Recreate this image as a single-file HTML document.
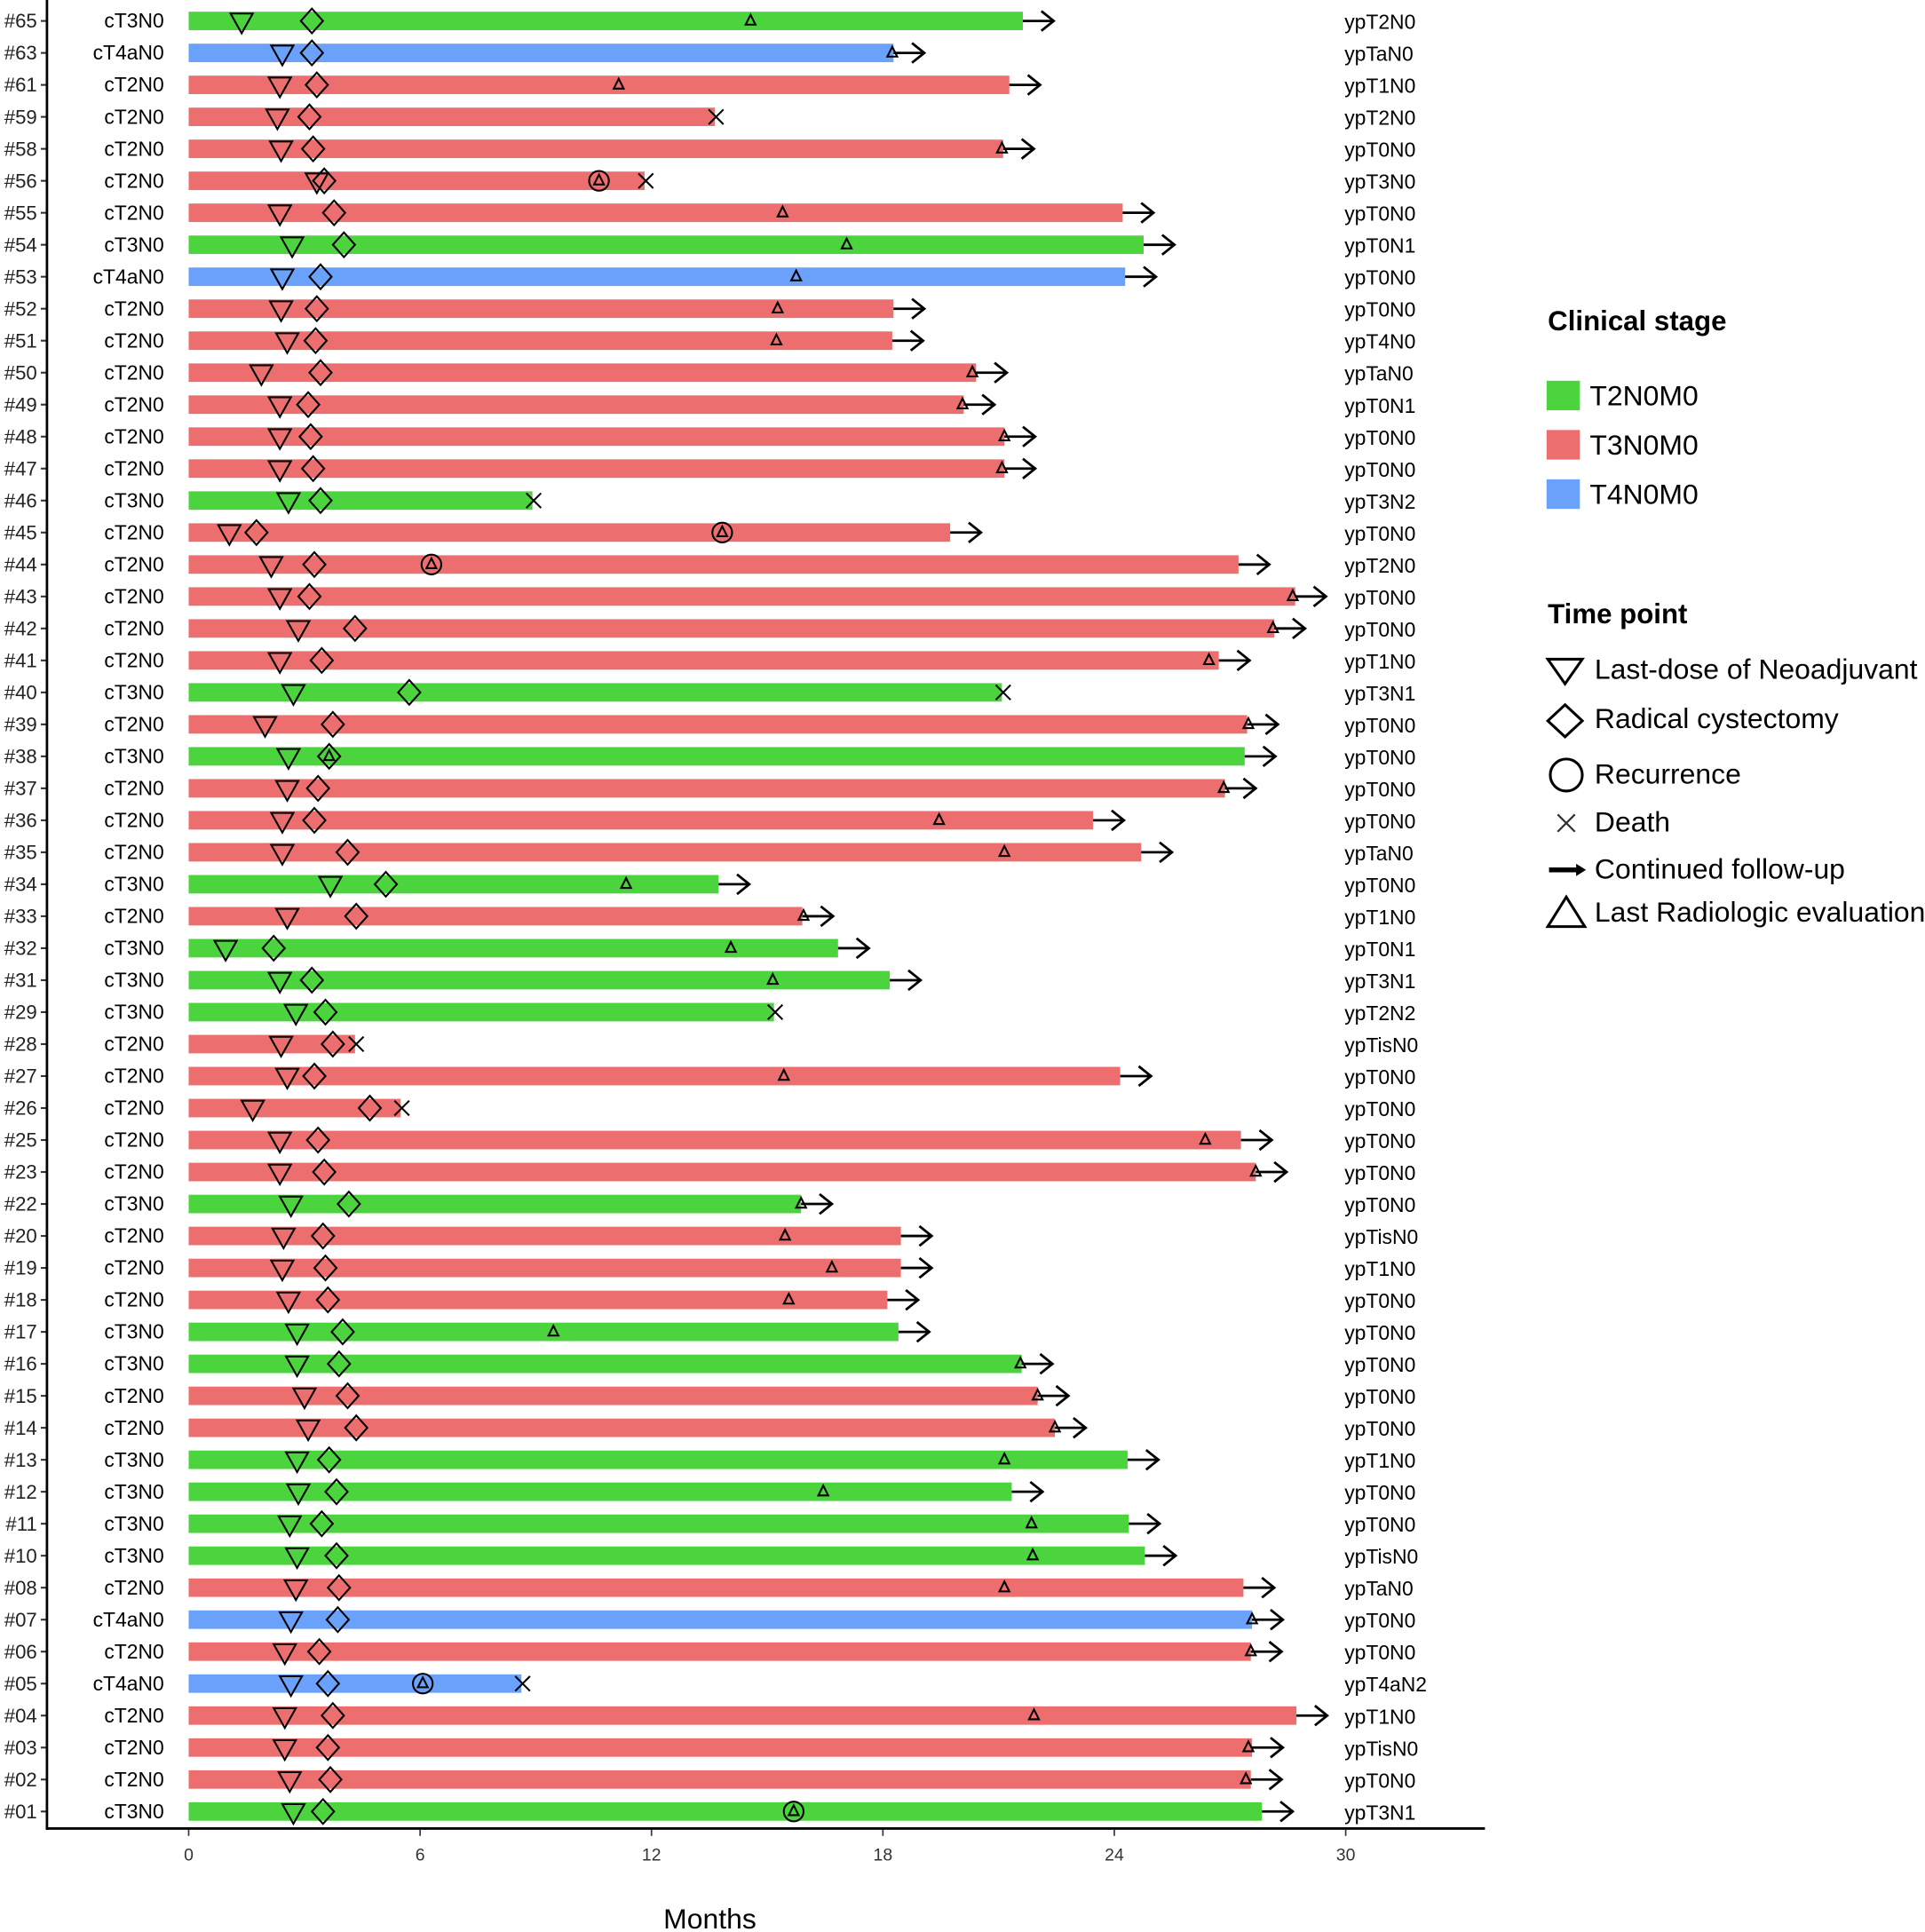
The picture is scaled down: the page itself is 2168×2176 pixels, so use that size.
<!DOCTYPE html>
<html><head><meta charset="utf-8">
<style>
html,body{margin:0;padding:0;background:#fff;}
svg{display:block;font-family:"Liberation Sans",Arial,sans-serif;}
</style></head>
<body>
<svg id="s" width="2168" height="2176" viewBox="0 0 1562 1568" xmlns="http://www.w3.org/2000/svg">
<rect width="1562" height="1568" fill="#fff"/>
<g id="rows"></g>
<line x1="38" y1="0" x2="38" y2="1485" stroke="#000" stroke-width="2"/>
<line x1="37" y1="1484" x2="1205" y2="1484" stroke="#000" stroke-width="2"/>
<g id="xt" font-size="14" fill="#333" text-anchor="middle"></g>
<text x="576" y="1565" font-size="23" text-anchor="middle" fill="#000">Months</text>
<g id="leg">
<text x="1256" y="268" font-size="22.5" font-weight="bold">Clinical stage</text>
<rect x="1255" y="309" width="27" height="24" fill="#4cd43f"/>
<rect x="1255" y="349" width="27" height="24" fill="#ed6e6e"/>
<rect x="1255" y="389" width="27" height="24" fill="#6aa2fb"/>
<text x="1290" y="329" font-size="23">T2N0M0</text>
<text x="1290" y="369" font-size="23">T3N0M0</text>
<text x="1290" y="409" font-size="23">T4N0M0</text>
<text x="1256" y="506" font-size="22.5" font-weight="bold">Time point</text>
<polygon points="1256,535 1284,535 1270,555" fill="none" stroke="#000" stroke-width="2.2"/>
<polygon points="1270,572 1284,585 1270,598 1256,585" fill="none" stroke="#000" stroke-width="2.2"/>
<ellipse cx="1271" cy="629" rx="13" ry="13" fill="none" stroke="#000" stroke-width="2.2"/>
<path d="M1264,661 L1278,675 M1278,661 L1264,675" stroke="#333" stroke-width="1.6"/>
<path d="M1257,706 L1280,706" stroke="#000" stroke-width="4"/>
<polygon points="1279,701 1287,706 1279,711" fill="#000"/>
<polygon points="1256,752 1286,752 1271,728" fill="none" stroke="#000" stroke-width="2.2"/>
<text x="1294" y="551" font-size="23">Last-dose of Neoadjuvant</text>
<text x="1294" y="591" font-size="23">Radical cystectomy</text>
<text x="1294" y="636" font-size="23">Recurrence</text>
<text x="1294" y="675" font-size="23">Death</text>
<text x="1294" y="713" font-size="23">Continued follow-up</text>
<text x="1294" y="748" font-size="23">Last Radiologic evaluation</text>
</g>
</svg>
<script>
var NS="http://www.w3.org/2000/svg";
function el(p,t,a,txt){var e=document.createElementNS(NS,t);for(var k in a)e.setAttribute(k,a[k]);if(txt!=null)e.textContent=txt;p.appendChild(e);return e;}
var C={G:"#4cd43f",R:"#ed6e6e",B:"#6aa2fb"};
var ST={G:"cT3N0",R:"cT2N0",B:"cT4aN0"};
var D=[
["65","G",830,196,253,609,0,"A","ypT2N0"],
["63","B",725,229,253,724,0,"A","ypTaN0"],
["61","R",819,227,257,502,0,"A","ypT1N0"],
["59","R",580,225,251,0,0,"X","ypT2N0"],
["58","R",814,228,254,813,0,"A","ypT0N0"],
["56","R",523,257,263,0,486,"X","ypT3N0"],
["55","R",911,227,271,635,0,"A","ypT0N0"],
["54","G",928,237,279,687,0,"A","ypT0N1"],
["53","B",913,229,260,646,0,"A","ypT0N0"],
["52","R",725,228,257,631,0,"A","ypT0N0"],
["51","R",724,233,256,630,0,"A","ypT4N0"],
["50","R",792,212,260,789,0,"A","ypTaN0"],
["49","R",782,227,250,781,0,"A","ypT0N1"],
["48","R",815,227,252,815,0,"A","ypT0N0"],
["47","R",815,227,254,813,0,"A","ypT0N0"],
["46","G",432,234,260,0,0,"X","ypT3N2"],
["45","R",771,186,208,0,586,"A","ypT0N0"],
["44","R",1005,220,255,0,350,"A","ypT2N0"],
["43","R",1051,227,251,1049,0,"A","ypT0N0"],
["42","R",1034,242,288,1033,0,"A","ypT0N0"],
["41","R",989,227,261,981,0,"A","ypT1N0"],
["40","G",813,238,332,0,0,"X","ypT3N1"],
["39","R",1012,215,270,1013,0,"A","ypT0N0"],
["38","G",1010,234,267,267,0,"A","ypT0N0"],
["37","R",994,233,258,993,0,"A","ypT0N0"],
["36","R",887,229,255,762,0,"A","ypT0N0"],
["35","R",926,229,282,815,0,"A","ypTaN0"],
["34","G",583,268,313,508,0,"A","ypT0N0"],
["33","R",651,233,289,652,0,"A","ypT1N0"],
["32","G",680,183,222,593,0,"A","ypT0N1"],
["31","G",722,227,253,627,0,"A","ypT3N1"],
["29","G",628,240,264,0,0,"X","ypT2N2"],
["28","R",288,228,270,0,0,"X","ypTisN0"],
["27","R",909,233,255,636,0,"A","ypT0N0"],
["26","R",325,205,300,0,0,"X","ypT0N0"],
["25","R",1007,227,258,978,0,"A","ypT0N0"],
["23","R",1019,227,263,1019,0,"A","ypT0N0"],
["22","G",650,236,283,650,0,"A","ypT0N0"],
["20","R",731,230,262,637,0,"A","ypTisN0"],
["19","R",731,229,264,675,0,"A","ypT1N0"],
["18","R",720,234,266,640,0,"A","ypT0N0"],
["17","G",729,241,278,449,0,"A","ypT0N0"],
["16","G",829,241,275,828,0,"A","ypT0N0"],
["15","R",842,247,282,842,0,"A","ypT0N0"],
["14","R",856,250,289,856,0,"A","ypT0N0"],
["13","G",915,241,267,815,0,"A","ypT1N0"],
["12","G",821,242,273,668,0,"A","ypT0N0"],
["11","G",916,235,261,837,0,"A","ypT0N0"],
["10","G",929,241,273,838,0,"A","ypTisN0"],
["08","R",1009,240,275,815,0,"A","ypTaN0"],
["07","B",1016,236,274,1016,0,"A","ypT0N0"],
["06","R",1015,231,259,1015,0,"A","ypT0N0"],
["05","B",423,236,266,0,343,"X","ypT4aN2"],
["04","R",1052,231,270,839,0,"A","ypT1N0"],
["03","R",1016,231,266,1013,0,"A","ypTisN0"],
["02","R",1015,235,268,1011,0,"A","ypT0N0"],
["01","G",1024,238,262,0,644,"A","ypT3N1"]];
var g=document.getElementById("rows");
D.forEach(function(r,i){
 var y=17+i*25.95;
 el(g,"rect",{x:153,y:y-7.5,width:r[2]-153,height:15,fill:C[r[1]]});
 el(g,"line",{x1:33,y1:y,x2:38,y2:y,stroke:"#333","stroke-width":1.5});
 el(g,"text",{x:30,y:y+5.5,"font-size":16,"text-anchor":"end",fill:"#222"},"#"+r[0]);
 el(g,"text",{x:133,y:y+5.5,"font-size":16.5,"text-anchor":"end",fill:"#000"},ST[r[1]]);
 el(g,"text",{x:1091,y:y+6.5,"font-size":16.5,fill:"#000"},r[8]);
 var t=r[3];
 el(g,"polygon",{points:(t-9)+","+(y-6)+" "+(t+9)+","+(y-6)+" "+t+","+(y+10),fill:"none",stroke:"#000","stroke-width":1.5});
 var d=r[4];
 el(g,"polygon",{points:d+","+(y-10)+" "+(d+9)+","+y+" "+d+","+(y+10)+" "+(d-9)+","+y,fill:"none",stroke:"#000","stroke-width":1.5});
 function smallTri(x){el(g,"polygon",{points:(x-4)+","+(y+3)+" "+(x+4)+","+(y+3)+" "+x+","+(y-5),fill:"none",stroke:"#000","stroke-width":1.5});}
 if(r[5])smallTri(r[5]);
 if(r[6]){el(g,"circle",{cx:r[6],cy:y,r:8,fill:"none",stroke:"#000","stroke-width":1.5});smallTri(r[6]);}
 var e=r[2];
 if(r[7]=="A"){
  el(g,"path",{d:"M"+e+","+y+" L"+(e+25)+","+y+" M"+(e+15)+","+(y-8)+" L"+(e+25)+","+y+" L"+(e+15)+","+(y+8),fill:"none",stroke:"#000","stroke-width":2});
 }else{
  el(g,"path",{d:"M"+(e-5)+","+(y-6)+" L"+(e+7)+","+(y+6)+" M"+(e+7)+","+(y-6)+" L"+(e-5)+","+(y+6),stroke:"#000","stroke-width":1.5});
 }
});
var xt=document.getElementById("xt");
for(var m=0;m<=30;m+=6){var x=153+m*31.3;
 el(xt,"line",{x1:x,y1:1485,x2:x,y2:1490,stroke:"#333","stroke-width":1.2});
 el(xt,"text",{x:x,y:1510},""+m);}
</script>
</body></html>
